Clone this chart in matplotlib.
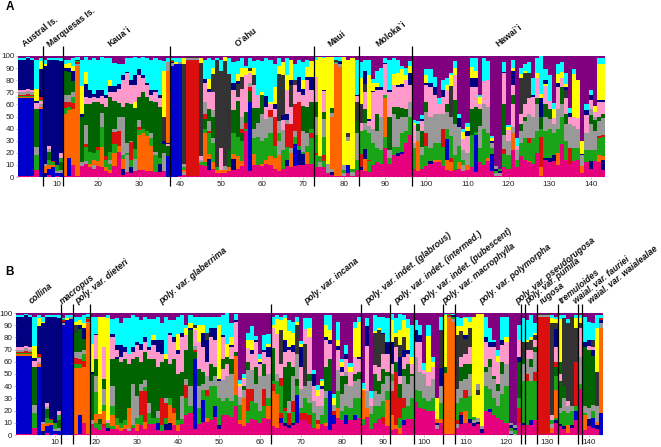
import matplotlib
matplotlib.use('Agg')
import matplotlib.pyplot as plt

plt.rcParams['font.family'] = ['Liberation Sans', 'DejaVu Sans']

# cluster colours, one letter per cluster
cluster_colors = {'m': '#e6007e', 'b': '#0000cd', 'o': '#ff6600', 'g': '#1aa519', 'r': '#dc0f0f',
	'a': '#999999', 'd': '#006400', 'p': '#ff99cc', 'n': '#000080', 'y': '#ffff00',
	'k': '#333333', 'c': '#00ffff', 'u': '#800080'}

# each column: cluster letter + cumulative top in percent, purple fills up to 100
columns_a = [
	# 1-10
	"m1 b65 o66 g67 r68 a70 p72 n97 c98", "m1 b65 o66 g67 r68 a70 p72 n97 c98", "m1 b65 o66 g67 r69 a71 p73 n98 c99", "m1 b65 o66 g67 r68 a70 p72 n97 c98",
	"m6 g18 a25 d56 p61 n63 y73 c97", "b56 o58 a60 p63 g64 r66 n89 y96 c98", "n3 o9 a11 n92 y93 c97", "m2 b7 o10 g14 d21 a23 p26 n97 c98", "b8 o10 g12 r13 n97 c98", "m1 b3 a5 g10 n97 c98",
	# 11-20
	"b3 a6 d12 g16 p20 n96 c98", "m1 o52 g57 r62 a68 d88 n90 y93 c97", "m1 b16 o55 g58 r62 a68 d87 n90 y94 c97", "m10 o56 r61 g66 a70 d79 n88 y92 c98", "m1 o92 a93 r95 g96 k97 c99",
	"m9 a12 d50 n52 y75 c97", "m11 a13 g25 r27 a43 d60 p66 n77 y87 c99", "m8 o11 g21 d60 p65 n72 c97", "m7 a10 o14 g20 d62 p66 n69 c98", "m9 o13 g22 r25 d62 p65 n72 c97",
	# 21-30
	"m8 o25 g41 a53 d60 p67 n72 c99", "m5 o8 g14 r17 d58 p65 n68 c98", "m3 o6 g11 a14 g21 d66 p70 n75 y80 c98", "m9 o20 g27 r37 a40 d63 p70 n75 c94", "m21 o26 r38 a50 d61 p73 n77 c93",
	"m2 n7 o15 g18 a50 d58 p80 n84 c93", "m4 a18 g20 a28 d61 p86 n87 c98", "m3 n8 g14 r29 a30 d60 p76 n80 c98", "m5 a15 g23 d57 y62 p76 n84 c99", "m6 o35 g39 r41 a47 d66 p84 n89 c98",
	# 31-40
	"m6 o36 g40 d70 p82 n84 c99", "m5 o34 g38 d66 p76 n78 c98", "m5 o26 g32 a36 d63 p68 n72 c97", "m4 g18 a21 d62 p70 n72 c98", "m4 n11 g16 d58 p65 n68 c97",
	"m5 a20 d27 n30 k50 y88 c96", "b17 d26 p27 n28 o88 a95 c98", "b92 a94 n95 r96 g97 c98", "b93 y95 c98", "m1 b93 a95 c98",
	# 41-50
	"m2 a4 o6 g8 a11 k93 y98", "m1 r97 a98 k99", "m1 r97 a98 k99", "m1 r97 a98 k99", "m10 g12 a14 p17 k94 y98",
	"m9 g12 o36 g40 d48 r52 a62 p78 n81 c97", "m6 n15 o19 g36 r38 a46 d56 p70 n73 y81 c98", "m7 o12 g28 a32 d50 a55 p70 k85 y90 c97", "m3 o6 g8 k97 c98", "m3 o6 p24 k88 c97",
	# 51-60
	"m3 o6 a9 k96 y99", "m5 o8 d22 k85 c98", "m6 n15 o19 g36 d55 p72 n78 c95", "m7 o17 g33 d63 p66 k77 n79 y85 c96", "m9 o13 g30 d36 r40 a50 p73 k83 y90 c98",
	"m38 g40 r45 d54 p84 y90 c92", "m5 b62 d71 r74 a78 p86 y88 k90 c98", "m10 o19 g32 a40 d57 p76 k84 y90 c96", "m10 g33 a45 d57 p68 c97", "m9 o11 g30 a52 d68 y70 c96",
	# 61-70
	"m11 o14 g32 a48 p58 n67 c98", "m10 o17 g36 a50 r55 p60 y62 c97", "m7 o16 g26 r50 p56 n60 y74 c93", "m5 o18 a30 g36 a46 k85 y92 c98", "m7 g22 a39 p47 n51 k84 y95",
	"m9 n14 g25 r44 a47 n52 p72 y84 c98", "m8 o20 a24 r44 p58 k76 n80 y97", "m9 b27 g33 a38 r60 p76 k80 c93", "m10 n22 g26 r62 p70 n83 c97", "m10 n19 g21 a38 d59 p68 n73 y80 c95",
	# 71-80
	"m11 o21 g26 a36 d58 p80 n83 y91 c97", "m11 g32 r36 g40 d62 p72 n83 y96", "m8 g18 r20 g35 a50 d62 p83 y97 c99", "m8 a12 g17 y99", "m8 g13 r18 g33 a48 d54 p71 n72 y98 c99",
	"m3 a11 y99", "m2 n4 a7 o50 a53 d57 y99", "m1 o93 a94 g95 k97 c99", "m1 o91 a93 n95 k96 c99", "m1 a3 g6 a10 y99",
	# 81-90
	"m3 b10 y30 a33 k36 y97", "m1 a4 g7 y98", "m6 g14 a36 d46 k62 p67 n68 c97", "m6 n8 r19 g38 p45 k60 y82 c95", "m5 o15 n23 g39 a45 d56 p70 k77 n88 c97",
	"m4 g13 r14 g36 a42 p46 n48 y84 c97", "m10 g28 a40 p70 n71 y78 c81", "m12 g24 a38 d52 p72 n74 y78 c88", "m11 g22 a50 p72 n74 c90", "m24 g33 o65 g68 p93 n94 c98",
	# 91-100
	"m11 g16 a22 d50 p70 n72 c97", "m18 g25 a52 d58 p76 y85 c98", "m17 n20 g25 a48 d58 p74 n76 y86 c97", "m19 b21 g36 a50 d57 p74 n77 y89 c92", "m28 g38 a50 d56 p80 y84 c90",
	"m35 g50 a62 p76 n86 y92 c96", "m7 g24 a28 p43 y45 c47", "m5 o30 a38 d44 c46", "m7 g18 a25 d38 p46 n48 c51", "m9 g26 r36 a54 d62 p76 n78 y84 c89",
	# 101-110
	"m11 n13 g24 a50 p74 n78 c89", "m12 o14 g28 a52 p68 n74 c83", "m12 o14 g28 a52 p60 c65", "m9 g25 r40 a52 p66 n72 c80", "m6 o14 b31 g40 a54 d60 p72 y76 c82",
	"m5 o12 r16 g34 a50 k75 y84 c86", "m6 g18 a44 d64 p84 y90 c96", "m7 o12 g26 a41 n49 c52", "m5 a10 g14 a22 p31 y37 c40", "m6 o10 a20 p34 n38 y41 c45",
	# 111-120
	"m8 g35 d56 p74 n82 y91 c98", "m4 b35 g37 d58 p74 n82 y88 c98", "m12 g24 a42 d56 p60 y66 c68", "m10 g40 a60 p79 c98", "m13 o16 g36 a58 p80 c96",
	"m5 b17 n19 g24 a28 n30 y32 c34", "m1 a3 g5 n7 a9", "m1 a3 n5 g7", "m8 g19 r23 a35 d60 p86 n87 c95", "m7 g18 a30 p39 y41 c43",
	# 121-130
	"m22 o36 a41 p60 d68 p76 n88 y90 c97", "m8 g14 a22 p26 c32", "m17 g28 a38 d44 p52 k82 y85 c90", "m14 g32 a46 d50 p60 k86 y88 c93", "m12 o13 g28 r32 a52 p65 k86 c95",
	"m11 g32 a50 p66 n68 c82", "m20 g38 a60 d65 p82 y86 c98", "m1 o8 r33 g40 d50 n65 y69 c100", "m14 n16 g38 a50 d60 p75 y77 n80 c89", "m12 n16 g40 a48 d56 p63 c84",
	# 131-143
	"m13 n18 g36 a44 p49 y56 c61", "m10 o20 g40 a56 p74 n78 y85 c93", "m27 g50 a60 d74 p82 y87 c95", "m14 g30 a44 d52 p65 k72 n74 y77 c86", "m11 r24 a44 p50 n53 c57",
	"m13 g24 a42 p50 y85 c89", "m14 g24 a40 p49 y80", "m3 o9 a18 n19 y30", "m12 g22 a36 p51 n55 c60", "m7 n13 g22 a44 d51 a56 p64 n68 c72",
	"m13 g22 a38 d47 a50 p54 y59", "m12 o18 g32 r34 a46 d50 p62 n64 y93 c98", "m6 n14 o17 g33 r35 a49 d52 p62 n64 y93 c98",
]
columns_b = [
	# 1-10
	"m1 b65 o66 g67 r68 a70 p72 n97 c98", "m1 b65 o66 g67 r68 a70 p72 n97 c98", "m1 b65 o66 g67 r69 a71 p73 n98 c99", "m1 b65 o66 g67 r68 a70 p72 n97 c98",
	"m6 g18 a25 d56 p61 n63 y73 c97", "b56 o58 a60 p63 g64 r66 n89 y96 c98", "n3 o9 a11 n92 y93 c97", "m2 b7 o10 g14 d21 a23 p26 n97 c98", "b8 o10 g12 r13 n97 c98", "m1 b3 a5 g10 n97 c98",
	# 11-20
	"b3 a6 d12 g16 p20 n96 c98", "b90 a92 n93 r94 g95 c96", "b94 y96 c98", "b95 a97 c98", "m1 o55 g58 r63 a68 d84 k90 y93 c97",
	"m1 b16 o55 g58 r62 a68 d87 n90 y94 c97", "m10 o56 r61 g66 a70 d79 n88 y92 c98", "m1 o92 a93 r95 g96 k97 c99", "m9 a12 d50 n52 y75 c97", "m6 g10 o17 g35 a48 d62 p82 n83 c97",
	# 21-30
	"m4 g9 d13 o17 y97", "m7 r9 o20 g25 a38 d46 p72 y97", "m3 n6 g10 p12 y96 c98", "m5 g7 o16 g24 a40 d62 p80 n83 c95", "m5 o8 g14 d62 n64 p70 n74 c96",
	"m3 o6 g10 d60 p64 n74 c92", "m5 o8 g12 d62 p68 n72 c96", "m3 a6 o22 d58 p66 c96", "m6 g8 a42 d62 p68 n72 c98", "m3 o9 g14 a32 d64 p74 n76 c97",
	# 31-40
	"m8 g16 r36 a42 d60 p70 n75 c94", "m5 o11 r36 g39 a45 d68 p76 n80 c97", "m9 g18 a26 d62 p70 n72 c95", "m9 g14 d62 p74 n78 y82 c95", "m4 b10 g14 a20 d56 p68 n78 c97",
	"m3 g8 r30 d60 p66 n78 c92", "m4 n9 g14 r26 a30 d62 y66 c97", "m4 n10 o25 g30 d58 p82 n84 c94", "m8 o18 r22 d62 p76 n80 c94", "m3 o8 g12 d50 p66 n70 y83 c97",
	# 41-50
	"m9 g13 a32 d52 p80 n84 c98", "m16 g30 r41 a46 d70 p82 y88 c90", "m18 g24 a40 d86 n88 y92 c98", "m5 b62 d68 r70 a73 p86 y88 k90 c97", "m9 g22 a40 d54 p76 y90 c97",
	"m11 b29 g37 a42 d52 p72 n84 y90 c97", "m11 o14 g32 r37 a48 p60 n78 k84 c97", "m12 g40 a44 d58 p80 n88 c97", "m15 b24 g40 a48 d56 p78 n88 c97", "m5 n8 g30 a44 n46 y90 c97",
	# 51-60
	"m16 g28 a45 p54 d62 p80 n82 c98", "m16 g30 a48 p58 d64 y75 c100", "m15 g28 a50 d62 p72 n74 y80 c92", "m24 g33 o65 d68 p93 n94 c99", "m9 o12 g25 a31 p40 y42 c45",
	"m7 o30 a37 d40 p46 y47 c50", "m10 g20 r38 a53 d60 p71 y78 c84", "m13 g28 r38 a53 p66 n70 y78 c89", "m12 g26 a42 d56 p76 n78 c81", "m10 g20 a48 p58 n60 y62 c66",
	# 61-70
	"m14 g24 r38 a48 d58 p68 n70 c82", "m13 o24 g30 a50 p64 n72 y75 c83", "m7 o36 r42 g44 d71 p88 y90 c97", "m6 o34 g44 a50 p83 y95 c98", "m10 b14 r18 g40 r47 p58 k86 y94 c97",
	"m7 n10 g20 r22 d56 p68 n78 y96 c98", "m6 n8 r18 a28 d60 p70 n72 y85 c94", "m8 n10 g19 r28 a48 d56 p68 n74 y84 c93", "m10 b33 g40 d46 a66 k90 y93 c97", "m12 r18 g22 a38 p56 n72 y75 c77",
	# 71-80
	"m12 r18 g30 a40 k75 p87 c96", "m9 r16 g26 a44 d50 p80 y88 c96", "m6 g18 a28 p40 n50 c53", "m5 o9 r12 a24 p32 y37 c41", "m9 g16 a24 p38 n40 y44 c46",
	"m7 o10 g30 a36 d56 p78 n80 y90 c98", "m4 b36 d62 p75 n78 y86 c98", "m9 b16 r20 a25 y30 c34", "m14 o22 g36 a53 p70 n73 y78 c93", "m12 g20 a34 d48 p52 n56 y60 c62",
	# 81-90
	"m9 b16 g24 a42 d48 a52 p62 n66 c74", "m12 g22 a40 p52 y56 c59", "m12 b16 g30 a44 d50 p64 y88 c93", "m14 g30 a46 d52 p62 n64 y93 c97", "m8 g13 o37 y38 c43",
	"m15 o22 a36 p73 n89 c96", "m5 g17 a24 p30 c36", "m10 g24 a36 d50 p57 k84 y85 c98", "m13 g24 a34 d44 p56 k86 y88 c97", "m9 r15 g28 a42 d54 p66 k83 n84 c97",
	# 91-100
	"m7 o29 g36 a48 d52 p66 n76 c96", "m4 o16 r36 a44 g50 p58 n76 y94 c99", "m5 o8 r52 d60 p72 k80 y84 c96", "m1 o6 g14 r30 d42 p48 n64 k74 y86 c99", "m8 b12 g22 r30 a48 d54 p64 n70 k80 y94 c98",
	"m13 g24 a42 d58 p66 n70 y88 c95", "m13 g30 a48 d50 p58 y64 c90", "m27 g37 a64 p76 n86 c94", "m22 g36 a52 p76 n82 c90", "m21 g30 a50 p53 c59",
	# 101-110
	"m20 g28 a40 p52 y81 c90", "m20 g30 a46 p56 y60 c64", "m5 a8 n10 o13 y30", "m10 o13 g26 a40 n55 k86 c97", "m1 o51 d56 y98 c99",
	"m1 o96 a97 r98 g99", "m1 o93 a95 g97 n98 c99", "m6 a9 r12 g26 a38 k82 y89 c97", "m9 n16 r19 g30 a44 d56 p64 k85 y89 c96", "m10 o20 g30 r37 a46 d58 p66 k79 n82 y96 c97",
	# 111-120
	"m10 n13 g32 a50 d58 p72 k88 y93 c97", "m7 n10 a12 g15 y97", "m9 n11 a14 y33 k37 a42 y99", "m2 n5 a7 y99", "m20 g40 a52 d56 p76 n80 c97",
	"m19 b21 g38 a56 d62 p72 n76 c88", "m16 g30 a46 d48 p72 n76 c78", "m14 g24 a36 d42 p60 y65 c70", "m12 g34 a50 d60 p74 n78 c97", "m10 g40 a58 p76 y80 c97",
	# 121-130
	"n1 a3 g6 n8 a10", "a1 g4 n6 a8", "m10 r22 g30 d60 n64 p78 c90", "m8 n10 g44 a58 d62 k76 c96", "m8 g44 r50 a62 p70 k76 y78 c94",
	"m8 b12 g44 a56 d62 p70 k78 y80 c98", "m12 g44 r52 a68 d72 p78 k82 y84 c92", "m1 r97 a98 k99", "m1 r97 a98 k99", "m1 r97 a98 k99",
	# 131-143
	"m2 o6 a9 g12 p16 k92 y96 c98", "m10 n12 g14 o37 g48 d56 r60 p72 n87 k92 y95 c97", "m7 n9 g18 a22 d44 p50 d60 y95 c98", "m5 n7 g20 a30 d40 k96 c98", "m2 o8 g18 a24 p28 k92 c95",
	"m6 n8 g20 a24 k97", "m12 b20 g24 r60 k88 y96 c98", "m38 g42 a64 p88 k92 y96 c98", "m4 o16 g18 a24 d72 n76 c97", "m7 n13 a22 d70 p73 n78 c93",
	"m6 b14 g20 a25 d65 n70 p72 k78 c92", "m5 n8 o11 a24 k52 y88 c98", "b18 o88 a92 n94 r96 c98",
]

value_ticks = [0, 10, 20, 30, 40, 50, 60, 70, 80, 90, 100]
sample_ticks = [10, 20, 30, 40, 50, 60, 70, 80, 90, 100, 110, 120, 130, 140]

island_names = ['Austral Is.', 'Marquesas Is.', 'Kaua`i', 'O`ahu', 'Maui', 'Moloka`i', 'Hawai`i']
island_breaks = [6, 11, 37, 72, 83, 96]
island_label_px = [26, 51, 112, 239, 332, 380, 500]

taxon_names = ['collina', 'macropus', 'poly. var. dieteri', 'poly. var. glaberrima', 'poly. var. incana',
	'poly. var. indet. (glabrous)', 'poly. var. indet. (intermed.)', 'poly. var. indet. (pubescent)',
	'poly. var. macrophylla', 'poly. var. polymorpha', 'poly. var. pseudorugosa', 'poly. var. pumila',
	'rugosa', 'tremuloides', 'waial. var. fauriei', 'waial. var. waialealae']
taxon_breaks = [11, 14, 18, 62, 84, 91, 97, 104, 107, 123, 124, 127, 132, 137, 138]
taxon_label_px = [33, 64, 79, 163, 308, 369, 398, 424, 446, 483, 519, 529, 544, 563, 577, 592]

W, H = 661, 447


def draw_panel(fig, box, columns, breaks, line_span):
	# box is left, top, right, bottom in pixels
	left, top, right, bottom = box
	ax = fig.add_axes([left / W, 1 - bottom / H, (right - left) / W, (bottom - top) / H])
	for i, col in enumerate(columns):
		prev = 0
		for part in col.split():
			key, val = part[0], float(part[1:])
			if val > prev:
				ax.bar(i + 1, val - prev, bottom=prev, width=1.0, color=cluster_colors[key], linewidth=0, antialiased=False)
				prev = val
		if prev < 100:
			ax.bar(i + 1, 100 - prev, bottom=prev, width=1.0, color=cluster_colors['u'], linewidth=0, antialiased=False)
	ax.set_xlim(0.5, 143.5)
	ax.set_ylim(0, 100)
	for s in ax.spines.values():
		s.set_visible(False)
	ax.set_yticks(value_ticks)
	ax.set_xticks(sample_ticks)
	ax.set_xticks(range(1, 144), minor=True)
	ax.tick_params(axis='y', length=1.5, width=0.4, labelsize=5.8, pad=1, color='#888888', labelcolor='#222222')
	ax.tick_params(axis='x', length=1.5, width=0.4, labelsize=5.8, pad=1.5, color='#888888', labelcolor='#222222')
	ax.tick_params(axis='x', which='minor', length=1, width=0.3, color='#aaaaaa')
	ax.vlines([b + 0.5 for b in breaks], line_span[0], line_span[1], color='black', linewidth=0.9, clip_on=False, zorder=5)
	return ax


fig = plt.figure(figsize=(W / 100, H / 100), dpi=100)

print(len(columns_a), len(columns_b))
draw_panel(fig, (18, 56, 605, 177), columns_a, island_breaks, (-7.4, 108.3))
draw_panel(fig, (16, 313, 603, 435), columns_b, taxon_breaks, (-7.4, 107.4))

for name, px in zip(island_names, island_label_px):
	fig.text(px / W, 1 - 49 / H, name, rotation=38, rotation_mode='anchor', ha='left', va='bottom',
		fontsize=6.3, fontweight='bold', color='#111111')
for name, px in zip(taxon_names, taxon_label_px):
	fig.text(px / W, 1 - 306 / H, name, rotation=39, rotation_mode='anchor', ha='left', va='bottom',
		fontsize=6.3, fontweight='bold', fontstyle='italic', color='#111111')

fig.text(6 / W, 1 - 10 / H, 'A', fontsize=8.5, fontweight='bold', ha='left', va='baseline')
fig.text(5 / W, 1 - 275 / H, 'B', fontsize=8.5, fontweight='bold', ha='left', va='baseline')

fig.savefig('out.png', dpi=100)
